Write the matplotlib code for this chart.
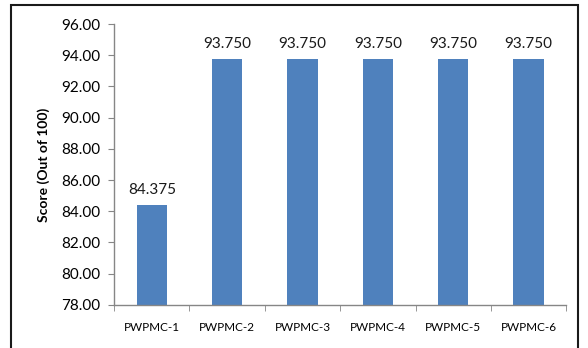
import matplotlib
matplotlib.use('Agg')
from matplotlib import pyplot as plt
from matplotlib.patches import Rectangle
import numpy as np

categories = ['PWPMC-1', 'PWPMC-2', 'PWPMC-3', 'PWPMC-4', 'PWPMC-5', 'PWPMC-6']
scores = [84.375, 93.750, 93.750, 93.750, 93.750, 93.750]
y_ticks = [78, 80, 82, 84, 86, 88, 90, 92, 94, 96]

plt.rcParams['font.family'] = ['Lato', 'DejaVu Sans']

fig = plt.figure(figsize=(5.88, 3.48), dpi=100)
ax = fig.add_axes([0.194, 0.124, 0.769, 0.807])

x = np.arange(len(categories))
bars = ax.bar(x, scores, width=0.4, color='#4F81BD', zorder=2)
for xi, val in zip(x, scores):
    ax.text(xi, val + 0.55, f'{val:.3f}', ha='center', va='bottom', fontsize=11, color='#1a1a1a')

ax.set_ylim(78, 96)
ax.set_yticks(y_ticks)
ax.set_yticklabels([f'{v:.2f}' for v in y_ticks], fontsize=11)
ax.set_xlim(-0.5, len(categories) - 0.5)
ax.set_xticks(x)
ax.set_xticklabels(categories, fontsize=8.5)
ax.set_xticks(np.arange(len(categories) + 1) - 0.5, minor=True)
ax.tick_params(axis='x', which='major', length=0, pad=12)
ax.tick_params(axis='x', which='minor', length=4, color='#868686', direction='out')
ax.tick_params(axis='y', length=4, color='#868686', direction='out', pad=6)

for side in ['top', 'right']:
    ax.spines[side].set_visible(False)
for side in ['left', 'bottom']:
    ax.spines[side].set_color('#868686')
    ax.spines[side].set_linewidth(1.0)

ax.set_ylabel('Score (Out of 100)', fontsize=10, fontweight='bold', labelpad=8)

border = Rectangle((0.019, -0.1), 0.964, 1.086, transform=fig.transFigure,
                   fill=False, edgecolor='#1a1a1a', linewidth=1.5)
fig.patches.append(border)

plt.savefig('out.png', dpi=100)
